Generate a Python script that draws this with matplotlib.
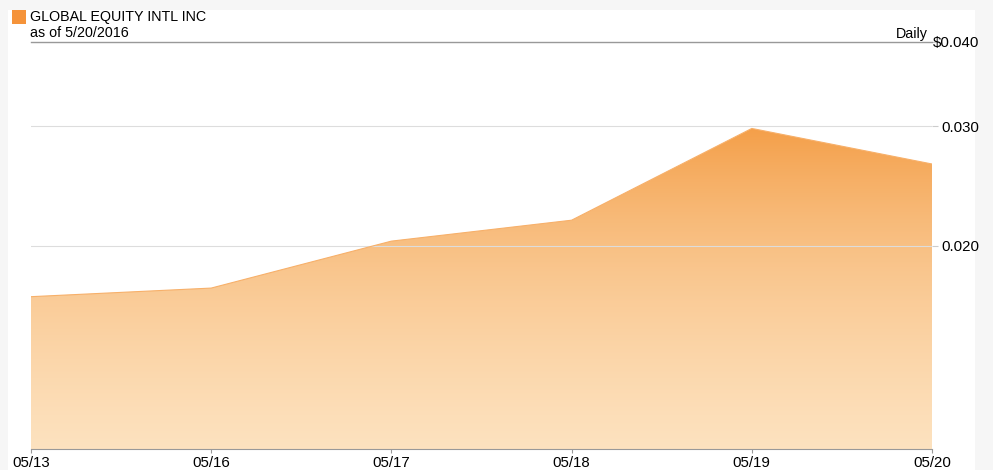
import numpy as np
import matplotlib.pyplot as plt
from matplotlib.colors import LinearSegmentedColormap
from matplotlib.patches import Polygon, Rectangle

plt.rcParams['font.family'] = ['Liberation Sans', 'DejaVu Sans']

dates = ['05/13', '05/16', '05/17', '05/18', '05/19', '05/20']
prices = [0.0168, 0.0173, 0.0203, 0.0218, 0.0298, 0.0264]
ytick_vals = [0.020, 0.030, 0.040]
ytick_labels = ['0.020', '0.030', '$0.040']

fig = plt.figure(figsize=(9.93, 4.7), dpi=100, facecolor='#f6f6f6')
bg = Rectangle((8 / 993, 0), 967 / 993, 460 / 470, transform=fig.transFigure,
               facecolor='white', edgecolor='none', zorder=-10)
fig.patches.append(bg)

ax = fig.add_axes([31 / 993, 1 - 449 / 470, 901 / 993, 407 / 470])
ax.set_facecolor('none')
x = np.arange(len(dates))
ax.set_yscale('log')
ax.set_ylim(0.01, 0.04)
ax.set_xlim(0, len(dates) - 1)

# gradient fill under the line
cmap = LinearSegmentedColormap.from_list('o', ['#fde2bf', '#f49f49'])
grad = np.linspace(0, 1, 256).reshape(-1, 1)
im = ax.imshow(grad, cmap=cmap, aspect='auto', origin='lower',
               extent=[0, len(dates) - 1, 0.01, max(prices)], zorder=1)
poly = Polygon(np.column_stack([np.r_[x, x[-1], x[0]], np.r_[prices, 0.01, 0.01]]),
               closed=True, transform=ax.transData, facecolor='none', edgecolor='none')
ax.add_patch(poly)
im.set_clip_path(poly)
ax.plot(x, prices, color='#f7b06a', lw=0.8, zorder=2)

ax.set_yticks(ytick_vals)
ax.set_yticklabels(ytick_labels)
ax.yaxis.set_minor_locator(plt.NullLocator())
ax.yaxis.set_minor_formatter(plt.NullFormatter())
ax.yaxis.tick_right()
ax.tick_params(axis='y', length=4, color='#cccccc', labelsize=10.8, pad=30)
for lbl in ax.get_yticklabels():
    lbl.set_ha('right')
ax.set_xticks(x)
ax.set_xticklabels(dates)
ax.tick_params(axis='x', length=3, color='#999999', labelsize=10.8, pad=2)

ax.grid(axis='y', which='major', color='#dddddd', lw=0.8, zorder=0)
for s in ['left', 'right', 'top']:
    ax.spines[s].set_visible(False)
ax.spines['bottom'].set_color('#999999')
ax.axhline(0.04, color='#999999', lw=1, clip_on=False)

fig.patches.append(Rectangle((12 / 993, 1 - 24 / 470), 14 / 993, 14 / 470, transform=fig.transFigure,
                             facecolor='#f5933a', edgecolor='none'))
fig.text(30 / 993, 1 - 17 / 470, 'GLOBAL EQUITY INTL INC', fontsize=10.3, va='center', ha='left')
fig.text(30 / 993, 1 - 33 / 470, 'as of 5/20/2016', fontsize=10.3, va='center', ha='left')
fig.text(928 / 993, 1 - 34 / 470, 'Daily', fontsize=10.3, va='center', ha='right')

fig.savefig('out.png', dpi=100, facecolor=fig.get_facecolor())
